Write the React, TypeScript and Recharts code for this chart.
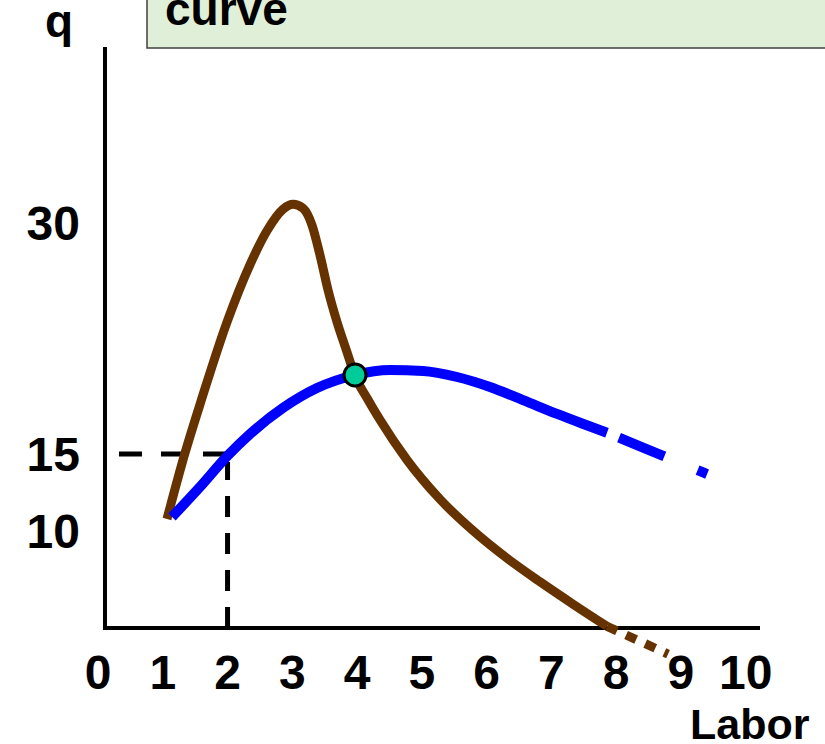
import React from 'react';
import { LineChart, Line, XAxis, YAxis } from 'recharts';

const FONT = '"Liberation Sans", Arial, Helvetica, sans-serif';

// Axis ticks
const xTicks = [0, 1, 2, 3, 4, 5, 6, 7, 8, 9, 10];
const yTicks = [10, 15, 30];

// Brown curve (marginal product), solid part
const mplLabor = [1.065, 1.343, 1.606, 1.992, 2.347, 2.609, 2.856, 3.011, 3.165, 3.304, 3.428, 3.551, 3.69, 3.844, 3.968, 4.153, 4.354, 4.771, 5.28, 5.79, 6.315, 6.824, 7.334, 7.858];
const mplQ = [10.78, 15.06, 18.64, 23.57, 27.3, 29.5, 30.9, 31.22, 30.96, 29.86, 27.9, 25.65, 23.57, 21.62, 20.06, 18.64, 17.21, 14.61, 12.06, 10.02, 8.23, 6.7, 5.25, 3.81];
// Brown curve, dotted continuation below the axis
const mplExtLabor = [7.858, 8.8];
const mplExtQ = [3.81, 2.01];

// Blue curve (average product), solid part
const apLabor = [1.143, 1.575, 1.992, 2.347, 2.856, 3.381, 3.968, 4.508, 5.018, 5.543, 6.052, 6.562, 7.087, 7.473, 7.858];
const apQ = [10.91, 12.86, 14.85, 16.3, 17.99, 19.28, 20.13, 20.45, 20.39, 20.0, 19.35, 18.5, 17.6, 16.98, 16.38];
// Blue curve, dashed continuation
const apExtLabor = [7.858, 8.368, 9.403];
const apExtQ = [16.38, 15.5, 13.7];

// Intersection point
const crossLabor = [3.968];
const crossQ = [20.13];

// Guide lines (dashed) at L=2, q=15
const guideHLabor = [0.324, 2];
const guideHQ = [15, 15];
const guideVLabor = [2, 2];
const guideVQ = [3.7, 14.48];

// Axis lines
const xAxisLabor = [0.077, 10.22];
const xAxisQ = [3.7, 3.7];
const yAxisLabor = [0.108, 0.108];
const yAxisQ = [3.57, 41.43];

const zip = (xs: number[], ys: number[]) => xs.map((x, i) => ({ x, y: ys[i] }));

const tickStyle = { fontSize: 48, fontWeight: 700, fill: '#000', fontFamily: FONT };

export default function App() {
  return (
    <div style={{ position: 'absolute', left: 0, top: 0, width: 825, height: 744, background: '#fff', overflow: 'hidden' }}>
      <LineChart width={825} height={744} margin={{ top: 47, right: 65, bottom: 0, left: 0 }}>
        <XAxis
          dataKey="x"
          type="number"
          domain={[0, 10.22]}
          ticks={xTicks}
          interval={0}
          axisLine={false}
          tickLine={false}
          tickSize={0}
          tickMargin={0}
          height={89}
          tick={tickStyle}
        />
        <YAxis
          type="number"
          domain={[1.947, 41.43]}
          ticks={yTicks}
          interval={0}
          axisLine={false}
          tickLine={false}
          tickSize={0}
          tickMargin={18}
          width={98}
          tick={tickStyle}
        />
        <Line data={zip(xAxisLabor, xAxisQ)} dataKey="y" type="linear" stroke="#000" strokeWidth={4} dot={false} activeDot={false} isAnimationActive={false} />
        <Line data={zip(yAxisLabor, yAxisQ)} dataKey="y" type="linear" stroke="#000" strokeWidth={4} dot={false} activeDot={false} isAnimationActive={false} />
        <Line data={zip(guideHLabor, guideHQ)} dataKey="y" type="linear" stroke="#000" strokeWidth={5} strokeDasharray="23 19" dot={false} activeDot={false} isAnimationActive={false} />
        <Line data={zip(guideVLabor, guideVQ)} dataKey="y" type="linear" stroke="#000" strokeWidth={5} strokeDasharray="21 16" dot={false} activeDot={false} isAnimationActive={false} />
        <Line data={zip(mplLabor, mplQ)} dataKey="y" type="monotone" stroke="#663300" strokeWidth={9} dot={false} activeDot={false} isAnimationActive={false} />
        <Line data={zip(mplExtLabor, mplExtQ)} dataKey="y" type="linear" stroke="#663300" strokeWidth={9} strokeDasharray="11 10" dot={false} activeDot={false} isAnimationActive={false} />
        <Line data={zip(apLabor, apQ)} dataKey="y" type="monotone" stroke="#0000ff" strokeWidth={10} dot={false} activeDot={false} isAnimationActive={false} />
        <Line data={zip(apExtLabor, apExtQ)} dataKey="y" type="monotone" stroke="#0000ff" strokeWidth={10} strokeDasharray="0 13 49 36 12 200" dot={false} activeDot={false} isAnimationActive={false} />
        <Line
          data={zip(crossLabor, crossQ)}
          dataKey="y"
          stroke="none"
          dot={{ r: 11, fill: '#00cc99', stroke: '#000', strokeWidth: 3 }}
          activeDot={false}
          isAnimationActive={false}
        />
      </LineChart>
      <svg width={825} height={744} style={{ position: 'absolute', left: 0, top: 0, pointerEvents: 'none' }}>
        <rect x={147} y={-5} width={690} height={53} fill="#e0f0d8" stroke="#404040" strokeWidth={1.5} />
        <text x={165} y={25} fontFamily={FONT} fontWeight={700} fontSize={46} fill="#000">curve</text>
        <text x={45} y={37} fontFamily={FONT} fontWeight={700} fontSize={46} fill="#000">q</text>
        <text x={690} y={739} fontFamily={FONT} fontWeight={700} fontSize={43} fill="#000">Labor</text>
      </svg>
    </div>
  );
}
